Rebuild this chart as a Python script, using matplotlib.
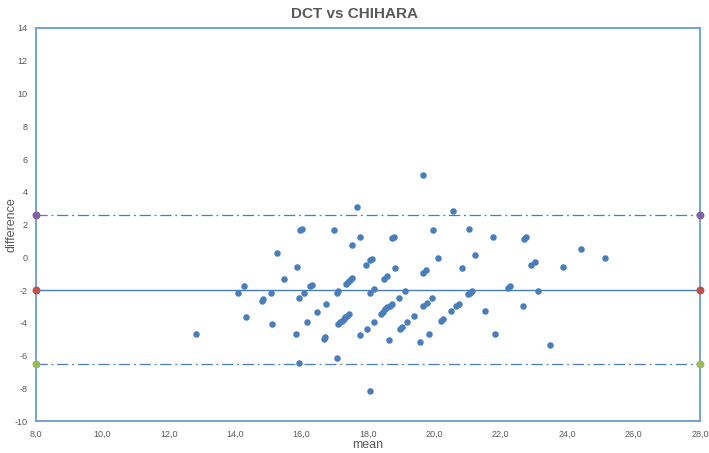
import numpy as np
import matplotlib
matplotlib.use("Agg")
import matplotlib.pyplot as plt

# Bland-Altman data: mean of the two methods vs their difference
mean_vals = [12.81, 14.08, 14.27, 14.32, 14.80, 14.85, 15.07, 15.12, 15.27, 15.46,
             15.83, 15.87, 15.91, 15.92, 15.95, 16.02, 16.07, 16.17, 16.26, 16.30,
             16.46, 16.67, 16.71, 16.73, 16.98, 17.06, 17.10, 17.07,
             17.11, 17.16, 17.21, 17.27, 17.32, 17.37, 17.42,
             17.33, 17.39, 17.45, 17.52, 17.52, 17.67, 17.76, 17.77, 17.93, 17.98,
             18.07, 18.12, 18.07, 18.17, 18.07, 18.18,
             18.40, 18.45, 18.52, 18.58, 18.65, 18.71,
             18.48, 18.56, 18.63, 18.73, 18.77, 18.82, 18.92, 18.96, 19.02,
             19.11, 19.17, 19.38, 19.57, 19.83, 19.67, 19.67, 19.76, 19.66, 19.77,
             19.93, 19.97, 20.11, 20.19, 20.25, 20.51, 20.57, 20.65, 20.73, 20.82,
             21.03, 21.02, 21.07, 21.12, 21.21, 21.52, 21.77, 21.83, 22.23, 22.28,
             22.68, 22.70, 22.75, 22.92, 23.02, 23.13, 23.47, 23.86, 24.42, 25.13]
diff_vals = [-4.67, -2.17, -1.77, -3.67, -2.67, -2.57, -2.17, -4.06, 0.24, -1.35,
             -4.67, -0.58, -2.47, -6.46, 1.66, 1.74, -2.17, -3.97, -1.77, -1.68,
             -3.36, -4.99, -4.89, -2.86, 1.65, -2.18, -2.06, -6.17,
             -4.06, -3.97, -3.88, -3.77, -3.67, -3.57, -3.47,
             -1.65, -1.51, -1.37, -1.27, 0.73, 3.05, 1.22, -4.77, -0.49, -4.38,
             -0.17, -0.09, -2.18, -1.96, -8.15, -3.97,
             -3.47, -3.33, -3.16, -3.06, -2.96, -2.84,
             -1.33, -1.15, -5.07, 1.16, 1.24, -0.66, -2.47, -4.38, -4.28,
             -2.06, -3.97, -3.57, -5.18, -4.67, 5.04, -0.98, -0.76, -2.96, -2.78,
             -2.47, 1.65, -0.06, -3.88, -3.77, -3.26, 2.84, -2.96, -2.86, -0.66,
             1.73, -2.26, -2.17, -2.06, 0.14, -3.26, 1.22, -4.67, -1.86, -1.76,
             -2.96, 1.13, 1.22, -0.47, -0.27, -2.06, -5.38, -0.58, 0.52, -0.06]

bias = -1.97
upper_loa = 2.56
lower_loa = -6.50

x_ticks = np.arange(8, 29, 2)
y_ticks = np.arange(-10, 15, 2)

plt.rcParams['font.family'] = ['Liberation Sans', 'DejaVu Sans']

fig = plt.figure(figsize=(7.09, 4.53), dpi=100)
ax = fig.add_axes([0.0508, 0.0706, 0.9365, 0.8676])

blue = '#4a7ebb'
gray = '#595959'

# limit and mean lines
ax.plot([8, 28], [upper_loa, upper_loa], color=blue, lw=0.9, linestyle=(0, (9, 3, 1.5, 3)))
ax.plot([8, 28], [bias, bias], color=blue, lw=1.0)
ax.plot([8, 28], [lower_loa, lower_loa], color=blue, lw=0.9, linestyle=(0, (9, 3, 1.5, 3)))

# coloured end points on the lines
ax.scatter([8, 28], [upper_loa, upper_loa], s=22, color='#8064a2', zorder=4, clip_on=False)
ax.scatter([8, 28], [bias, bias], s=22, color='#c0504d', zorder=4, clip_on=False)
ax.scatter([8, 28], [lower_loa, lower_loa], s=22, color='#9bbb59', zorder=4, clip_on=False)

ax.scatter(mean_vals, diff_vals, s=22, color=blue, zorder=3, linewidths=0)

ax.set_xlim(8, 28)
ax.set_ylim(-10, 14)
ax.set_xticks(x_ticks)
ax.set_xticklabels([('%.1f' % v).replace('.', ',') for v in x_ticks], fontsize=6.5, color=gray)
ax.set_yticks(y_ticks)
ax.set_yticklabels([str(v) for v in y_ticks], fontsize=6.5, color=gray)
ax.tick_params(axis='y', length=0, pad=6)
ax.tick_params(axis='x', length=0, pad=6)

for side in ['left', 'bottom', 'top', 'right']:
    ax.spines[side].set_color('#6b9bd6')
    ax.spines[side].set_linewidth(1.3)

ax.set_xlabel('mean', fontsize=9, color=gray)
ax.set_ylabel('difference', fontsize=9, color=gray)
ax.xaxis.set_label_coords(0.5, -0.045)
ax.yaxis.set_label_coords(-0.028, 0.5)
fig.suptitle('DCT vs CHIHARA', fontsize=11, fontweight='bold', color=gray, y=0.985)

fig.savefig('out.png', dpi=100)
